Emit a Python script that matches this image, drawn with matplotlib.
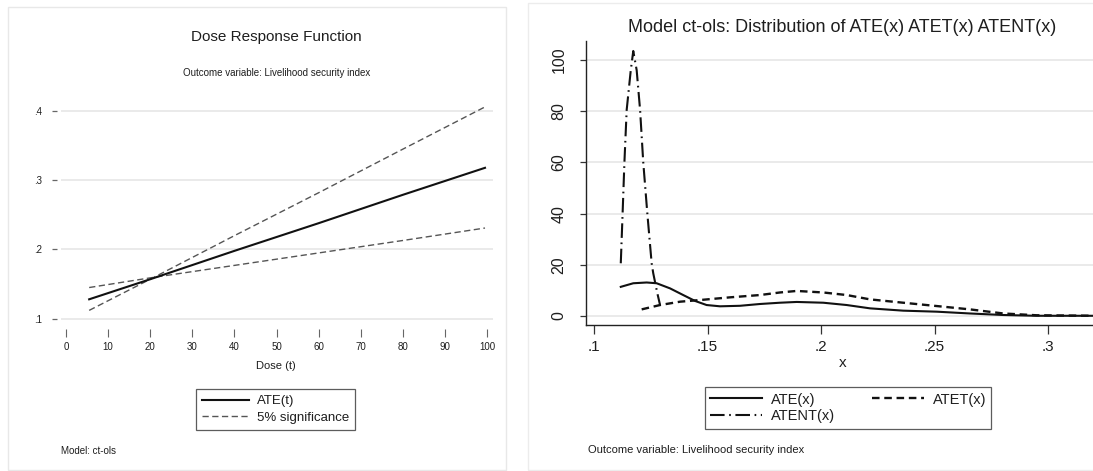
#!/usr/bin/env python3
"""Dose response function and distribution of ATE(x), ATET(x), ATENT(x) (ct-ols)."""

import matplotlib
matplotlib.use('Agg')
import matplotlib.pyplot as plt
from matplotlib.patches import Rectangle

plt.rcParams['font.family'] = ['Liberation Sans', 'DejaVu Sans']

W, H = 1093, 471

# ── Data: left panel (dose response) ──
dose = [5.5, 20, 40, 60, 80, 99.5]
ate_t = [0.128, 0.157, 0.198, 0.238, 0.279, 0.318]
ci_up = [0.112, 0.157, 0.220, 0.282, 0.345, 0.406]
ci_lo = [0.145, 0.159, 0.177, 0.195, 0.213, 0.231]
dose_ticks = list(range(0, 101, 10))
resp_ticks = [0.1, 0.2, 0.3, 0.4]
resp_labels = ['.1', '.2', '.3', '.4']

# ── Data: right panel (distributions) ──
ate_x = [0.1118, 0.1173, 0.1232, 0.1276, 0.1335, 0.1393, 0.1445, 0.1496, 0.1555,
         0.1643, 0.1731, 0.1819, 0.1893, 0.2010, 0.2113, 0.2216, 0.2362, 0.2510,
         0.2656, 0.2803, 0.2950, 0.3220]
ate_d = [11.4, 12.8, 13.1, 12.8, 10.8, 8.2, 5.9, 4.3, 3.8,
         4.0, 4.7, 5.2, 5.5, 5.2, 4.3, 3.0, 2.1, 1.7,
         1.0, 0.4, 0.1, 0.1]
atet_x = [0.1210, 0.1291, 0.1379, 0.1467, 0.1599, 0.1731, 0.1819, 0.1893, 0.2010,
          0.2113, 0.2216, 0.2362, 0.2510, 0.2656, 0.2803, 0.2950, 0.3220]
atet_d = [2.6, 4.3, 5.6, 6.25, 7.3, 8.2, 9.2, 9.8, 9.2,
          8.2, 6.5, 5.2, 3.9, 2.6, 1.0, 0.3, 0.1]
atent_x = [0.1118, 0.1126, 0.1134, 0.1144, 0.1162, 0.1173, 0.1188, 0.1203, 0.1217,
           0.1235, 0.1254, 0.1261, 0.1279, 0.1291]
atent_d = [20.6, 40, 60, 80.5, 96, 103.5, 96, 80.5, 60,
           40, 20.6, 16.7, 8.9, 4.3]
x_ticks = [0.1, 0.15, 0.2, 0.25, 0.3]
x_labels = ['.1', '.15', '.2', '.25', '.3']
dens_ticks = [0, 20, 40, 60, 80, 100]

TXT = '#1e1e1e'
GRID = '#e6e6e6'


def px_rect(l, t, r, b):
    return [l / W, 1 - b / H, (r - l) / W, (b - t) / H]


def fx(x):
    return x / W


def fy(y):
    return 1 - y / H


fig = plt.figure(figsize=(W / 100, H / 100), dpi=100)

# faint panel borders
fig.patches.append(Rectangle((fx(8), fy(470)), fx(506) - fx(8), fy(7) - fy(470),
                             transform=fig.transFigure, fill=False,
                             edgecolor='#e8e8e8', lw=1))
fig.patches.append(Rectangle((fx(528), fy(470)), fx(1100) - fx(528), fy(3) - fy(470),
                             transform=fig.transFigure, fill=False,
                             edgecolor='#ececec', lw=1))

# ── Left panel ──
ax1 = fig.add_axes(px_rect(61, 100, 493, 322))
ax1.plot(dose, ate_t, color='#111111', lw=1.5, label='ATE(t)', zorder=3)
ax1.plot(dose, ci_up, color='#555555', lw=1.0, dashes=(4.5, 2.5),
         label='5% significance', zorder=2)
ax1.plot(dose, ci_lo, color='#555555', lw=1.0, dashes=(4.5, 2.5), zorder=2)
ax1.set_xlim(-1.19, 101.4)
ax1.set_ylim(0.0952, 0.416)
ax1.set_yticks(resp_ticks)
ax1.set_yticklabels(resp_labels, rotation=90, va='center')
ax1.set_xticks(dose_ticks)
for s in ax1.spines.values():
    s.set_visible(False)
ax1.spines['left'].set_position(('outward', 3))
ax1.spines['bottom'].set_position(('outward', 5))
ax1.tick_params(axis='y', length=3.6, width=0.9, color='#666666', pad=7,
                labelsize=7, labelcolor=TXT)
ax1.tick_params(axis='x', length=5.5, width=0.8, color='#666666', pad=4,
                labelsize=7, labelcolor=TXT)
ax1.grid(axis='y', color=GRID, lw=1.2)
ax1.set_axisbelow(True)

fig.text(fx(276), fy(37), 'Dose Response Function', ha='center', va='center',
         fontsize=11, color=TXT)
fig.text(fx(277), fy(73), 'Outcome variable: Livelihood security index',
         ha='center', va='center', fontsize=7, color=TXT)
fig.text(fx(276), fy(366), 'Dose (t)', ha='center', va='center', fontsize=8,
         color=TXT)
fig.text(fx(61), fy(451), 'Model: ct-ols', ha='left', va='center', fontsize=7,
         color=TXT)

leg1 = ax1.legend(loc='center', bbox_to_anchor=(fx(275.5), fy(409.5)),
                  bbox_transform=fig.transFigure, fontsize=9.5, frameon=True,
                  fancybox=False, edgecolor='#333333', handlelength=3.6,
                  handletextpad=0.6, borderpad=0.45, labelspacing=0.35)
leg1.get_frame().set_linewidth(0.9)
for t in leg1.get_texts():
    t.set_color(TXT)

# ── Right panel ──
ax2 = fig.add_axes(px_rect(586, 41, 1093, 325))
l_ate, = ax2.plot(ate_x, ate_d, color='#111111', lw=1.5, label='ATE(x)')
l_atet, = ax2.plot(atet_x, atet_d, color='#111111', lw=1.7, dashes=(3.2, 2.0),
                   label='ATET(x)')
l_atent, = ax2.plot(atent_x, atent_d, color='#111111', lw=1.5,
                    dashes=(7, 2.2, 0.8, 2.2), label='ATENT(x)')
ax2.set_xlim(0.09648, 0.3198)
ax2.set_ylim(-3.5, 107.4)
ax2.set_xticks(x_ticks)
ax2.set_xticklabels(x_labels)
ax2.set_yticks(dens_ticks)
ax2.set_yticklabels([str(v) for v in dens_ticks], rotation=90, va='center')
ax2.spines['top'].set_visible(False)
ax2.spines['right'].set_visible(False)
for side in ('left', 'bottom'):
    ax2.spines[side].set_color('#222222')
    ax2.spines[side].set_linewidth(1.0)
ax2.tick_params(axis='y', length=4, width=0.9, color='#333333', pad=10,
                labelsize=11.5, labelcolor=TXT)
ax2.tick_params(axis='x', length=6.5, width=0.9, color='#333333', pad=4,
                labelsize=11, labelcolor=TXT)
ax2.grid(axis='y', color=GRID, lw=1.2)
ax2.set_axisbelow(True)

fig.text(fx(842), fy(28), 'Model ct-ols: Distribution of ATE(x) ATET(x) ATENT(x)',
         ha='center', va='center', fontsize=13, color=TXT)
fig.text(fx(843), fy(363), 'x', ha='center', va='center', fontsize=11,
         color=TXT)
fig.text(fx(588), fy(450), 'Outcome variable: Livelihood security index',
         ha='left', va='center', fontsize=8, color=TXT)

leg2 = ax2.legend(handles=[l_ate, l_atent, l_atet], ncol=2, loc='center',
                  bbox_to_anchor=(fx(848), fy(408)),
                  bbox_transform=fig.transFigure, fontsize=10.5, frameon=True,
                  fancybox=False, edgecolor='#333333', handlelength=3.6,
                  handletextpad=0.6, borderpad=0.35, labelspacing=0.2,
                  columnspacing=2.5)
leg2.get_frame().set_linewidth(0.9)
for t in leg2.get_texts():
    t.set_color(TXT)

plt.savefig('out.png', dpi=100)
plt.close()
print('Saved out.png')
